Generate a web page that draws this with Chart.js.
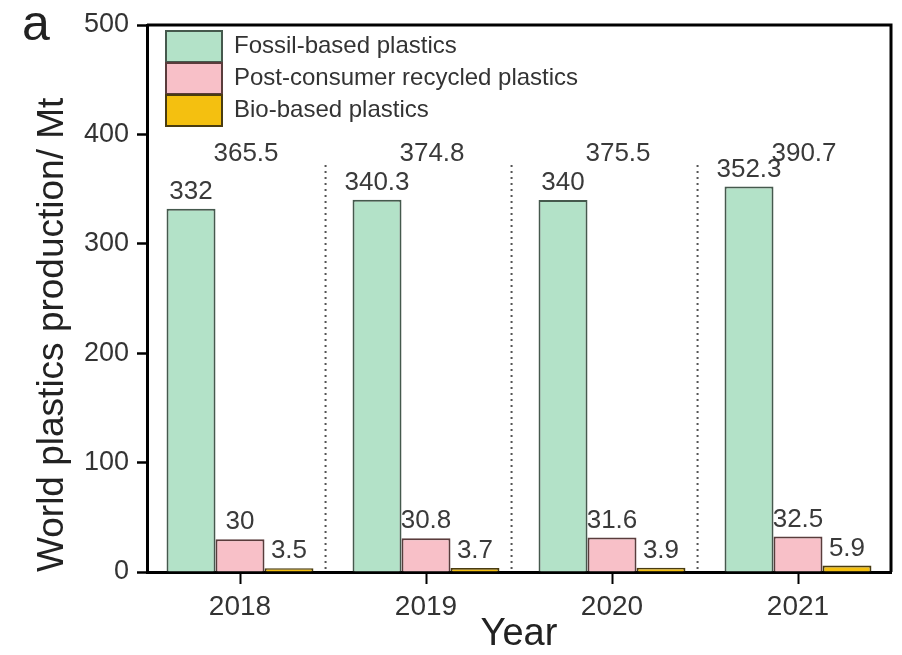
<!DOCTYPE html>
<html>
<head>
<meta charset="utf-8">
<script src="https://cdn.jsdelivr.net/npm/chart.js@4/dist/chart.umd.min.js"></script>
<style>
  body { margin: 0; background: #fff; }
  canvas { display: block; }
</style>
</head>
<body>
<canvas id="plasticsChart" width="902" height="655"></canvas>
<script>
// values (Mt)
const years = ['2018', '2019', '2020', '2021'];
const fossilBased = [332, 340.3, 340, 352.3];
const recycled = [30, 30.8, 31.6, 32.5];
const bioBased = [3.5, 3.7, 3.9, 5.9];
const totals = [365.5, 374.8, 375.5, 390.7];
const yTicks = [0, 100, 200, 300, 400, 500];

const FONT = "'Liberation Sans', Arial, sans-serif";
const TEXT = '#333';

// draws the value above every bar plus the yearly total
const barLabels = {
    id: 'barLabels',
    afterDatasetsDraw(chart) {
        const ctx = chart.ctx;
        const yScale = chart.scales.y;
        const xScale = chart.scales.x;
        ctx.save();
        ctx.fillStyle = '#3a3a3a';
        ctx.font = '26px ' + FONT;
        ctx.textAlign = 'center';
        ctx.textBaseline = 'bottom';
        chart.data.datasets.forEach((ds, i) => {
            chart.getDatasetMeta(i).data.forEach((bar, j) => {
                ctx.fillText(String(ds.data[j]), bar.x, bar.y - 4);
            });
        });

        // totals, sitting just above the tallest bars
        ctx.textBaseline = 'middle';
        totals.forEach((t, j) => {
            ctx.fillText(t.toFixed(1), xScale.getPixelForValue(j) + 6, yScale.getPixelForValue(382));
        });

        // dotted separators between the years
        ctx.strokeStyle = '#555';
        ctx.lineWidth = 2;
        ctx.setLineDash([2, 4]);
        for (let j = 0; j < years.length - 1; j++) {
            const x = xScale.getPixelForValue(j + 0.46);
            ctx.beginPath();
            ctx.moveTo(x, yScale.getPixelForValue(372));
            ctx.lineTo(x, yScale.getPixelForValue(0));
            ctx.stroke();
        }
        ctx.restore();
    }
};

// closes the box on top and right, and adds the panel letter
const frame = {
    id: 'frame',
    afterDraw(chart) {
        const { ctx, chartArea: a } = chart;
        ctx.save();
        ctx.strokeStyle = '#000';
        ctx.lineWidth = 3;
        ctx.beginPath();
        ctx.moveTo(a.left, a.top);
        ctx.lineTo(a.right, a.top);
        ctx.lineTo(a.right, a.bottom);
        ctx.stroke();
        ctx.fillStyle = '#222';
        ctx.font = '50px ' + FONT;
        ctx.textBaseline = 'alphabetic';
        ctx.fillText('a', 22, 40);
        ctx.restore();
    }
};

// nudge the legend into the top-left corner of the plot
const legendShift = {
    id: 'legendShift',
    afterLayout(chart) {
        chart.legend.left = chart.chartArea.left + 18;
        chart.legend.top = chart.chartArea.top + 5;
    }
};

new Chart(document.getElementById('plasticsChart'), {
    type: 'bar',
    data: {
        labels: years,
        datasets: [
            {
                label: 'Fossil-based plastics',
                data: fossilBased,
                backgroundColor: '#b3e2c8',
                borderColor: '#45594d',
                borderWidth: 2
            },
            {
                label: 'Post-consumer recycled plastics',
                data: recycled,
                backgroundColor: '#f8c0c8',
                borderColor: '#5a3c3c',
                borderWidth: 2
            },
            {
                label: 'Bio-based plastics',
                data: bioBased,
                backgroundColor: '#f4c010',
                borderColor: '#4a3c10',
                borderWidth: 2
            }
        ]
    },
    options: {
        responsive: false,
        animation: false,
        categoryPercentage: 0.79,
        barPercentage: 1.0,
        layout: { padding: { top: 25, right: 11, left: 0, bottom: 0 } },
        plugins: {
            tooltip: { enabled: false },
            legend: {
                position: 'chartArea',
                align: 'start',
                labels: {
                    boxWidth: 56,
                    boxHeight: 31,
                    padding: 1,
                    color: TEXT,
                    font: { family: FONT, size: 24 }
                }
            }
        },
        scales: {
            x: {
                afterFit: (axis) => { axis.height = 83; },
                grid: {
                    offset: false,
                    drawOnChartArea: false,
                    tickLength: 12,
                    tickWidth: 2,
                    tickColor: '#000'
                },
                border: { display: true, width: 3, color: '#000' },
                ticks: {
                    color: TEXT,
                    padding: 6,
                    font: { family: FONT, size: 28 }
                },
                title: {
                    display: true,
                    text: 'Year',
                    color: '#222',
                    padding: { top: 0, bottom: -2 },
                    font: { family: FONT, size: 38 }
                }
            },
            y: {
                min: 0,
                max: 500,
                afterFit: (axis) => { axis.width = 147; },
                afterBuildTicks: (axis) => { axis.ticks = yTicks.map(v => ({ value: v })); },
                grid: {
                    drawOnChartArea: false,
                    tickLength: 10,
                    tickWidth: 2.5,
                    tickColor: '#000'
                },
                border: { display: true, width: 3, color: '#000' },
                ticks: {
                    color: TEXT,
                    padding: 8,
                    font: { family: FONT, size: 27 }
                },
                title: {
                    display: true,
                    text: 'World plastics production/ Mt',
                    align: 'start',
                    color: '#222',
                    padding: { top: 31, bottom: 0 },
                    font: { family: FONT, size: 37 }
                }
            }
        }
    },
    plugins: [barLabels, frame, legendShift]
});
</script>
</body>
</html>
